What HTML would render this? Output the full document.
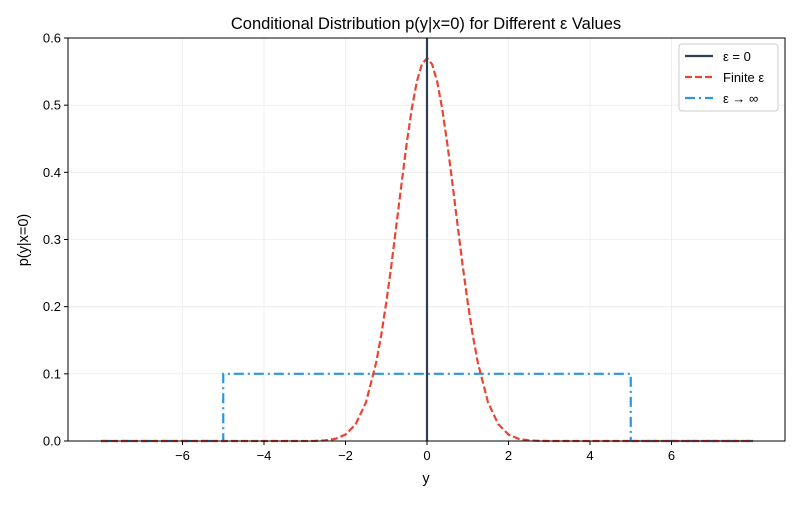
<!DOCTYPE html>
<html><head><meta charset="utf-8"><style>
body{margin:0;background:#fff;font-family:"Liberation Sans","DejaVu Sans",sans-serif;}
svg text{font-family:"Liberation Sans","DejaVu Sans",sans-serif;}
</style></head><body>
<svg id="chart" width="800" height="500" xmlns="http://www.w3.org/2000/svg"></svg>
<script>
const gaussX = [-8,-3,-2.75,-2.5,-2.25,-2,-1.75,-1.5,-1.25,-1.125,-1,-0.875,-0.75,-0.625,-0.5,-0.375,-0.25,-0.125,0,0.125,0.25,0.375,0.5,0.625,0.75,0.875,1,1.125,1.25,1.5,1.75,2,2.25,2.5,2.75,3,8];
const gaussY = [0,0,0.0002,0.0009,0.0032,0.0096,0.025,0.057,0.116,0.157,0.206,0.261,0.322,0.383,0.442,0.494,0.535,0.561,0.570,0.561,0.535,0.494,0.442,0.383,0.322,0.261,0.206,0.157,0.116,0.057,0.025,0.0096,0.0032,0.0009,0.0002,0,0];
const unifX = [-8,-5,-5,5,5,8];
const unifY = [0,0,0.1,0.1,0,0];
const xTicks = [-6,-4,-2,0,2,4,6];
const yTicks = [0,0.1,0.2,0.3,0.4,0.5,0.6];
const deltaX = 0;

const L=68,R=785,T=38,B=441;
const sx=v=>427+v*40.75;
const sy=v=>B-(v/0.6)*(B-T);
const svg=document.getElementById('chart');
const NS='http://www.w3.org/2000/svg';
function mk(tag,attrs,parent){const e=document.createElementNS(NS,tag);for(const k in attrs)e.setAttribute(k,attrs[k]);(parent||svg).appendChild(e);return e;}

xTicks.forEach(t=>{const g=mk('line',{x1:sx(t),x2:sx(t),y1:T,y2:B,stroke:'#ebebeb','stroke-width':0.8});

});
yTicks.forEach(t=>{const g=mk('line',{x1:L,x2:R,y1:sy(t),y2:sy(t),stroke:'#ebebeb','stroke-width':0.8});

});

const pts=(xs,ys)=>xs.map((x,i)=>sx(x)+','+sy(ys[i])).join(' ');
const u=mk('polyline',{points:pts(unifX,unifY),fill:'none',stroke:'#2b95e0','stroke-width':2.2,'stroke-dasharray':'10,4,2,4'});


const g=mk('polyline',{points:pts(gaussX,gaussY),fill:'none',stroke:'#e84535','stroke-width':2.2,'stroke-dasharray':'7,3','stroke-linejoin':'round'});


const d=mk('line',{x1:sx(deltaX),x2:sx(deltaX),y1:T,y2:B,stroke:'#2c3e50','stroke-width':2.2});



const f=mk('rect',{x:L,y:T,width:R-L,height:B-T,fill:'none',stroke:'#000','stroke-width':1});



xTicks.forEach(t=>{mk('line',{x1:sx(t),x2:sx(t),y1:B,y2:B+4,stroke:'#000'});
const tx=mk('text',{x:sx(t),y:B+19,'text-anchor':'middle','font-size':13});tx.textContent=t<0?'\u2212'+(-t):t;

});
yTicks.forEach(t=>{mk('line',{x1:L-4,x2:L,y1:sy(t),y2:sy(t),stroke:'#000'});
const tx=mk('text',{x:L-7,y:sy(t)+4.5,'text-anchor':'end','font-size':13});tx.textContent=t.toFixed(1);

});

const title=mk('text',{x:426,y:29,'text-anchor':'middle','font-size':16.5});title.textContent='Conditional Distribution p(y|x=0) for Different \u03b5 Values';


const xl=mk('text',{x:426,y:483,'text-anchor':'middle','font-size':14.5});xl.textContent='y';


const yl=mk('text',{x:28,y:240,'text-anchor':'middle','font-size':14.5,transform:'rotate(-90 28 240)'});yl.textContent='p(y|x=0)';



const lg=mk('g',{});


mk('rect',{x:679,y:44,width:99,height:67,rx:3,fill:'#fff',stroke:'#ccc'},lg);
const items=[['\u03b5 = 0','#2c3e50',''],['Finite \u03b5','#e84535','7,3'],['\u03b5 \u2192 \u221e','#2b95e0','10,4,2,4']];
items.forEach((it,i)=>{const y=56+i*21;
mk('line',{x1:685,x2:713,y1:y,y2:y,stroke:it[1],'stroke-width':2.2,'stroke-dasharray':it[2]},lg);
const t=mk('text',{x:723,y:y+5,'font-size':13},lg);t.textContent=it[0];

});
</script>
</body></html>
